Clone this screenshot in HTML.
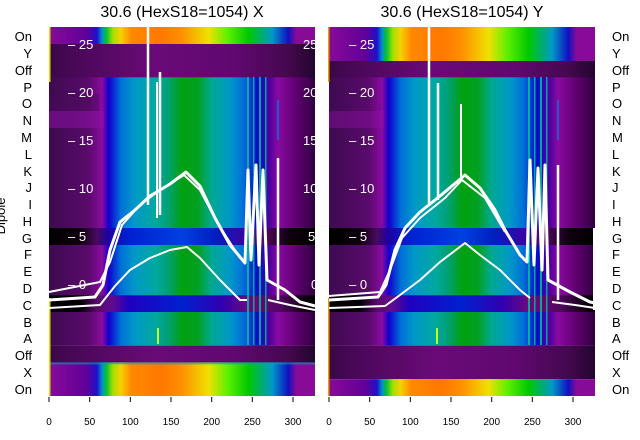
<!DOCTYPE html>
<html><head><meta charset="utf-8"><style>
html,body{margin:0;padding:0;background:#fff;}
svg{display:block;font-family:"Liberation Sans","DejaVu Sans",sans-serif;}
</style></head><body>
<svg width="640" height="440" viewBox="0 0 640 440" xmlns="http://www.w3.org/2000/svg">
<defs>
<linearGradient id="spec" x1="0" x2="1" y1="0" y2="0">
<stop offset="0" stop-color="#880a98"/><stop offset=".14" stop-color="#62009a"/>
<stop offset=".18" stop-color="#2010c8"/><stop offset=".2" stop-color="#0090d0"/>
<stop offset=".215" stop-color="#00c030"/><stop offset=".24" stop-color="#a0e000"/>
<stop offset=".27" stop-color="#f8d000"/><stop offset=".31" stop-color="#ff8800"/>
<stop offset=".42" stop-color="#ff7800"/>
<stop offset=".5" stop-color="#ff9000"/><stop offset=".6" stop-color="#f0e000"/>
<stop offset=".67" stop-color="#60f000"/><stop offset=".75" stop-color="#00c800"/>
<stop offset=".84" stop-color="#0098c8"/><stop offset=".9" stop-color="#1010c0"/>
<stop offset=".93" stop-color="#880a98"/><stop offset="1" stop-color="#880a98"/>
</linearGradient>
<linearGradient id="band" x1="0" x2="1" y1="0" y2="0">
<stop offset="0" stop-color="#3e0a50"/><stop offset=".15" stop-color="#5a0a6c"/>
<stop offset=".2" stop-color="#8a0aa0"/><stop offset=".225" stop-color="#1000d0"/>
<stop offset=".27" stop-color="#0070d8"/><stop offset=".32" stop-color="#0098c8"/>
<stop offset=".4" stop-color="#00a8a0"/><stop offset=".45" stop-color="#00a070"/>
<stop offset=".5" stop-color="#00a010"/><stop offset=".56" stop-color="#00a020"/>
<stop offset=".61" stop-color="#00a890"/><stop offset=".68" stop-color="#0098c8"/>
<stop offset=".73" stop-color="#0070d8"/>
<stop offset=".78" stop-color="#0010c8"/><stop offset=".83" stop-color="#5000a0"/>
<stop offset=".86" stop-color="#8a0aa0"/><stop offset=".93" stop-color="#600070"/>
<stop offset="1" stop-color="#300040"/>
</linearGradient>
<linearGradient id="dark" x1="0" x2="1" y1="0" y2="0">
<stop offset="0" stop-color="#3a0848"/><stop offset=".1" stop-color="#4a0858"/>
<stop offset=".4" stop-color="#6a0a78"/><stop offset=".7" stop-color="#600870"/>
<stop offset=".9" stop-color="#45084f"/><stop offset="1" stop-color="#22052e"/>
</linearGradient>
<linearGradient id="blk" x1="0" x2="1" y1="0" y2="0">
<stop offset="0" stop-color="#000"/><stop offset=".12" stop-color="#100010"/>
<stop offset=".18" stop-color="#4a0a60"/><stop offset=".22" stop-color="#2000a0"/>
<stop offset=".3" stop-color="#0020d0"/><stop offset=".5" stop-color="#0040e0"/>
<stop offset=".62" stop-color="#0020c0"/><stop offset=".75" stop-color="#4000a0"/>
<stop offset=".8" stop-color="#5a0a6a"/><stop offset=".9" stop-color="#100010"/>
<stop offset="1" stop-color="#000"/>
</linearGradient>
<linearGradient id="crow" x1="0" x2="1" y1="0" y2="0">
<stop offset="0" stop-color="#000"/><stop offset=".12" stop-color="#050008"/>
<stop offset=".18" stop-color="#5a0a6a"/><stop offset=".24" stop-color="#600a90"/>
<stop offset=".3" stop-color="#2000c0"/><stop offset=".5" stop-color="#0020d0"/>
<stop offset=".65" stop-color="#3000b0"/><stop offset=".75" stop-color="#6a0a80"/>
<stop offset=".87" stop-color="#500860"/><stop offset=".96" stop-color="#100010"/>
<stop offset="1" stop-color="#000"/>
</linearGradient>
</defs>

<!-- Left panel -->
<g>
<rect x="49" y="27" width="266" height="17" fill="url(#spec)"/>
<rect x="49" y="44" width="266" height="34" fill="url(#dark)"/>
<rect x="49" y="77.3" width="266" height="151" fill="url(#band)"/>
<rect x="49" y="94" width="50" height="17" fill="#4a0a5a" opacity=".4"/>
<rect x="49" y="111" width="55" height="17" fill="#9010a8" opacity=".5"/>
<rect x="49" y="228" width="266" height="17" fill="url(#blk)"/>
<rect x="49" y="245" width="266" height="50.5" fill="url(#band)"/>
<rect x="49" y="295.3" width="266" height="17" fill="url(#crow)"/>
<rect x="49" y="312" width="266" height="33.6" fill="url(#band)"/>
<rect x="49" y="345.6" width="266" height="17" fill="url(#dark)"/>
<rect x="49" y="362.4" width="266" height="33.6" fill="url(#spec)"/>
<rect x="49" y="362.4" width="266" height="2" fill="#00a0c0" opacity=".6"/>
<g fill="#00c8a0" opacity=".8">
<rect x="247" y="77" width="2" height="268"/><rect x="253" y="77" width="1.5" height="268"/>
<rect x="259" y="77" width="2" height="268"/><rect x="265" y="77" width="1.5" height="268"/>
<rect x="277" y="100" width="2" height="40" fill="#0070e0"/>
</g>
<rect x="157" y="328" width="2" height="16" fill="#c0ff20"/>
<rect x="49" y="27" width="1.5" height="55" fill="#e0e000"/>
<rect x="49" y="298" width="1.5" height="98" fill="#e0e000"/>
<g fill="none" stroke="#fff" stroke-linejoin="round">
<polyline stroke-width="3" points="49,300 95,297 103,285 110,250 120,222 135,210 150,196 170,184 186,172 200,186 215,218 230,245 245,263 248,170 251,260 256,165 259,265 263,170 267,280 285,290 300,302 315,306"/>
<polyline stroke-width="2" points="49,292 100,282 110,262 122,225 140,205 160,190 184,175 200,190 218,224 240,258"/>
<polyline stroke-width="2" points="49,308 100,305 115,286 130,270 150,258 170,250 187,247 200,258 220,280 240,300 247,300"/>
<polyline stroke-width="2" points="268,300 290,305 315,310"/>
<polyline stroke-width="2.5" points="148,27 148,205"/>
<polyline stroke-width="2.5" points="160,72 160,215"/>
<polyline stroke-width="2" points="157,82 157,218"/>
<polyline stroke-width="2.5" points="278,158 278,300"/>
</g>
<g fill="#fff" font-size="13">
<text x="68" y="49">– 25</text><text x="68" y="97">– 20</text><text x="68" y="145">– 15</text>
<text x="68" y="193">– 10</text><text x="68" y="241">– 5</text><text x="68" y="289">– 0</text>
<text x="303" y="49">25</text><text x="303" y="97">20</text><text x="303" y="145">15</text>
<text x="303" y="193">10</text><text x="308" y="241">5</text><text x="311" y="289">0</text>
</g>
</g>
<rect x="315" y="20" width="14" height="380" fill="#fff"/>

<!-- Right panel -->
<g>
<rect x="329" y="27" width="266" height="34" fill="url(#spec)"/>
<rect x="329" y="61" width="266" height="17" fill="url(#dark)"/>
<rect x="329" y="77.3" width="266" height="151" fill="url(#band)"/>
<rect x="329" y="111" width="55" height="17" fill="#9010a8" opacity=".4"/>
<rect x="329" y="228" width="266" height="17" fill="url(#blk)"/>
<rect x="329" y="245" width="266" height="50.5" fill="url(#band)"/>
<rect x="329" y="295.3" width="266" height="17" fill="url(#crow)"/>
<rect x="329" y="312" width="266" height="33.6" fill="url(#band)"/>
<rect x="329" y="345.6" width="266" height="33.6" fill="url(#dark)"/>
<rect x="329" y="379.2" width="266" height="16.8" fill="url(#spec)"/>
<g fill="#00c8a0" opacity=".8">
<rect x="528" y="77" width="2" height="268"/><rect x="534" y="77" width="1.5" height="268"/>
<rect x="540" y="77" width="2" height="268"/><rect x="546" y="77" width="1.5" height="268"/>
<rect x="557" y="100" width="2" height="40" fill="#0070e0"/>
</g>
<rect x="436" y="328" width="2" height="16" fill="#c0ff20"/>
<rect x="328" y="27" width="1.5" height="55" fill="#e0a000"/>
<rect x="328" y="298" width="1.5" height="98" fill="#e0a000"/>
<g fill="none" stroke="#fff" stroke-linejoin="round">
<polyline stroke-width="3" points="329,300 378,297 386,285 395,250 405,228 420,212 440,196 465,175 480,188 495,210 505,230 520,255 527,262 530,160 534,265 538,168 542,270 545,165 548,280 570,292 590,302 595,303"/>
<polyline stroke-width="2" points="329,296 380,292 390,270 402,238 420,218 445,198 462,180 485,198 505,232"/>
<polyline stroke-width="2" points="329,308 385,306 400,295 420,280 440,262 465,243 480,255 500,270 520,290 530,298"/>
<polyline stroke-width="2" points="552,302 575,305 595,308"/>
<polyline stroke-width="2" points="594,228 594,310"/>
<polyline stroke-width="2.5" points="429,27 429,205"/>
<polyline stroke-width="2.5" points="438,83 438,200"/>
<polyline stroke-width="2" points="461,104 461,180"/>
<polyline stroke-width="2.5" points="558,165 558,300"/>
</g>
<g fill="#fff" font-size="13">
<text x="349" y="49">– 25</text><text x="349" y="97">– 20</text><text x="349" y="145">– 15</text>
<text x="349" y="193">– 10</text><text x="349" y="241">– 5</text><text x="349" y="289">– 0</text>
</g>
</g>

<!-- Titles -->
<text x="182" y="17" font-size="16" text-anchor="middle" fill="#000">30.6 (HexS18=1054) X</text>
<text x="462" y="17" font-size="16" text-anchor="middle" fill="#000">30.6 (HexS18=1054) Y</text>

<!-- Y labels -->
<g font-size="13" fill="#000">
<g text-anchor="end">
<text x="32" y="41">On</text><text x="32" y="58">Y</text><text x="32" y="75">Off</text>
<text x="32" y="92">P</text><text x="32" y="108">O</text><text x="32" y="125">N</text>
<text x="32" y="142">M</text><text x="32" y="159">L</text><text x="32" y="176">K</text>
<text x="32" y="192">J</text><text x="32" y="209">I</text><text x="32" y="226">H</text>
<text x="32" y="243">G</text><text x="32" y="259">F</text><text x="32" y="276">E</text>
<text x="32" y="293">D</text><text x="32" y="310">C</text><text x="32" y="327">B</text>
<text x="32" y="343">A</text><text x="32" y="360">Off</text><text x="32" y="377">X</text>
<text x="32" y="394">On</text>
</g>
<g>
<text x="612" y="41">On</text><text x="612" y="58">Y</text><text x="612" y="75">Off</text>
<text x="612" y="92">P</text><text x="612" y="108">O</text><text x="612" y="125">N</text>
<text x="612" y="142">M</text><text x="612" y="159">L</text><text x="612" y="176">K</text>
<text x="612" y="192">J</text><text x="612" y="209">I</text><text x="612" y="226">H</text>
<text x="612" y="243">G</text><text x="612" y="259">F</text><text x="612" y="276">E</text>
<text x="612" y="293">D</text><text x="612" y="310">C</text><text x="612" y="327">B</text>
<text x="612" y="343">A</text><text x="612" y="360">Off</text><text x="612" y="377">X</text>
<text x="612" y="394">On</text>
</g>
<text x="0" y="0" font-size="13" transform="translate(5,216) rotate(-90)" text-anchor="middle">Dipole</text>
</g>

<!-- X ticks -->
<g stroke="#000" stroke-width="1">
<line x1="49" y1="397" x2="49" y2="402"/><line x1="89.7" y1="397" x2="89.7" y2="402"/>
<line x1="130.3" y1="397" x2="130.3" y2="402"/><line x1="171" y1="397" x2="171" y2="402"/>
<line x1="211.7" y1="397" x2="211.7" y2="402"/><line x1="252.3" y1="397" x2="252.3" y2="402"/>
<line x1="293" y1="397" x2="293" y2="402"/>
<line x1="329" y1="397" x2="329" y2="402"/><line x1="369.7" y1="397" x2="369.7" y2="402"/>
<line x1="410.3" y1="397" x2="410.3" y2="402"/><line x1="451" y1="397" x2="451" y2="402"/>
<line x1="491.7" y1="397" x2="491.7" y2="402"/><line x1="532.3" y1="397" x2="532.3" y2="402"/>
<line x1="573" y1="397" x2="573" y2="402"/>
</g>
<g font-size="10" fill="#000" text-anchor="middle">
<text x="49" y="425">0</text><text x="89.7" y="425">50</text><text x="130.3" y="425">100</text>
<text x="171" y="425">150</text><text x="211.7" y="425">200</text><text x="252.3" y="425">250</text>
<text x="293" y="425">300</text>
<text x="329" y="425">0</text><text x="369.7" y="425">50</text><text x="410.3" y="425">100</text>
<text x="451" y="425">150</text><text x="491.7" y="425">200</text><text x="532.3" y="425">250</text>
<text x="573" y="425">300</text>
</g>
</svg>
</body></html>
